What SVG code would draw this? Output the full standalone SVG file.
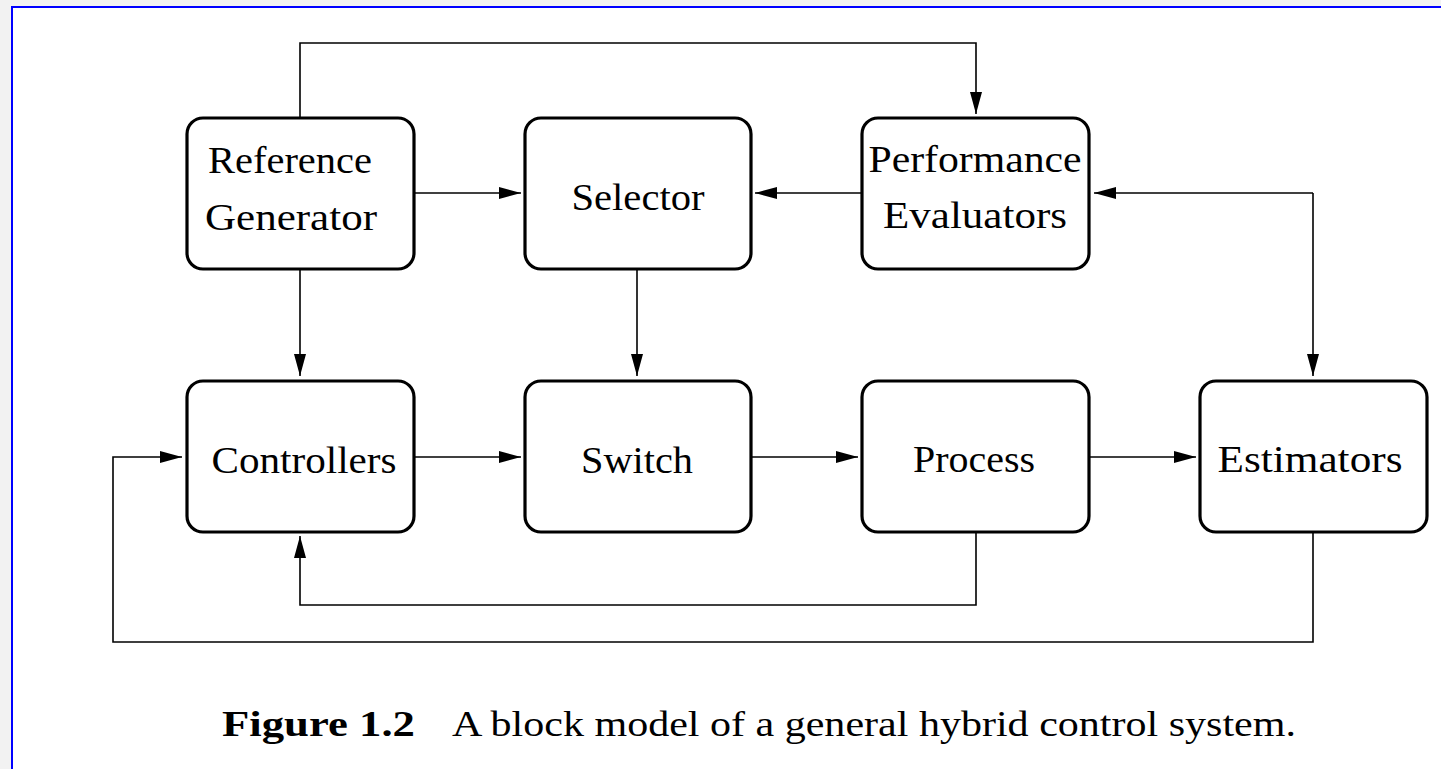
<svg xmlns="http://www.w3.org/2000/svg" width="1441" height="769" viewBox="0 0 1441 769">
<style>
.node rect{fill:#fff;stroke:#000;stroke-width:3.2}
.node text{font-family:"Liberation Serif","DejaVu Serif",serif;font-size:38px;fill:#000;text-anchor:middle}
.conn path{fill:none;stroke:#000;stroke-width:1.6}
.cap{font-family:"Liberation Serif","DejaVu Serif",serif;font-size:36px;fill:#000}
</style>
<defs>
<marker id="ah" markerUnits="userSpaceOnUse" markerWidth="24" markerHeight="14" refX="22" refY="6" orient="auto">
<path d="M0,0 L22,6 L0,12 Z" fill="#000"/>
</marker>
</defs>
<rect x="0" y="0" width="1441" height="769" fill="#f2f2f2"/>
<rect x="12" y="7" width="1440" height="770" fill="#fff" stroke="#0000ff" stroke-width="2"/>

<g class="conn">
<path d="M300,117 V43 H976 V114" marker-end="url(#ah)"/>
<path d="M414,193 H521" marker-end="url(#ah)"/>
<path d="M862,193 H755" marker-end="url(#ah)"/>
<path d="M1313,193 H1094" marker-end="url(#ah)"/>
<path d="M1313,193 V376" marker-end="url(#ah)"/>
<path d="M300,269 V376" marker-end="url(#ah)"/>
<path d="M637,269 V376" marker-end="url(#ah)"/>
<path d="M414,457 H521" marker-end="url(#ah)"/>
<path d="M750,457 H858" marker-end="url(#ah)"/>
<path d="M1090,457 H1196" marker-end="url(#ah)"/>
<path d="M976,532 V605 H300 V536" marker-end="url(#ah)"/>
<path d="M1313,532 V642 H113 V457 H182" marker-end="url(#ah)"/>
</g>

<g id="ref-gen" class="node">
<rect x="187" y="118" width="227" height="151" rx="16"/>
<text x="290" y="173" textLength="164" lengthAdjust="spacingAndGlyphs">Reference</text>
<text x="291" y="230" textLength="172" lengthAdjust="spacingAndGlyphs">Generator</text>
</g>
<g id="selector" class="node">
<rect x="525" y="118" width="226" height="151" rx="16"/>
<text x="638" y="210" textLength="133" lengthAdjust="spacingAndGlyphs">Selector</text>
</g>
<g id="perf-eval" class="node">
<rect x="862" y="118" width="227" height="151" rx="16"/>
<text x="975" y="172" textLength="213" lengthAdjust="spacingAndGlyphs">Performance</text>
<text x="975" y="228" textLength="184" lengthAdjust="spacingAndGlyphs">Evaluators</text>
</g>
<g id="controllers" class="node">
<rect x="187" y="381" width="227" height="151" rx="16"/>
<text x="304" y="473" textLength="185" lengthAdjust="spacingAndGlyphs">Controllers</text>
</g>
<g id="switch" class="node">
<rect x="525" y="381" width="226" height="151" rx="16"/>
<text x="637" y="473" textLength="112" lengthAdjust="spacingAndGlyphs">Switch</text>
</g>
<g id="process" class="node">
<rect x="862" y="381" width="227" height="151" rx="16"/>
<text x="974" y="472" textLength="122" lengthAdjust="spacingAndGlyphs">Process</text>
</g>
<g id="estimators" class="node">
<rect x="1200" y="381" width="227" height="151" rx="16"/>
<text x="1310" y="472" textLength="185" lengthAdjust="spacingAndGlyphs">Estimators</text>
</g>

<text class="cap" x="222" y="736" font-weight="bold" textLength="193" lengthAdjust="spacingAndGlyphs">Figure 1.2</text>
<text class="cap" x="452" y="736" textLength="844" lengthAdjust="spacingAndGlyphs">A block model of a general hybrid control system.</text>
</svg>
